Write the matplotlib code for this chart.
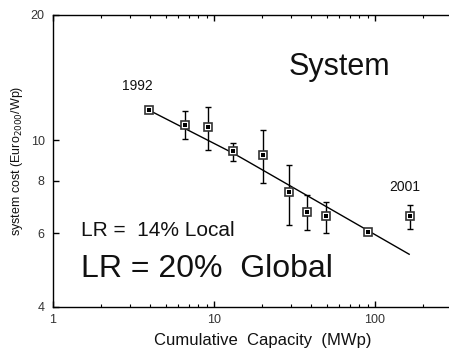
import matplotlib
matplotlib.use("Agg")
import matplotlib.pyplot as plt
from matplotlib.ticker import FixedLocator, NullFormatter, LogLocator
import numpy as np

plt.rcParams['font.family'] = ['Liberation Sans', 'DejaVu Sans']

# Data (cumulative capacity MWp, system cost Euro2000/Wp)
capacity = [3.96, 6.63, 9.22, 13.2, 20.1, 29.1, 37.8, 49.9, 90.5, 165]
cost     = [11.8, 10.9, 10.78, 9.41, 9.24, 7.51, 6.73, 6.59, 6.04, 6.59]
err_hi   = [11.8, 11.75, 12.0, 9.85, 10.57, 8.73, 7.39, 7.11, 6.04, 7.02]
err_lo   = [11.8, 10.06, 9.5, 8.93, 7.92, 6.27, 6.09, 6.01, 6.04, 6.14]

fit_x = [3.96, 6.15, 13.2, 15.97, 163]
fit_y = [11.8, 10.82, 9.31, 8.93, 5.34]

y_ticks = [4, 6, 8, 10, 20]
x_ticks = [1, 10, 100]

W, H = 449, 355
fig = plt.figure(figsize=(W/100, H/100), dpi=100)
left, bottom_px, top_px = 53, 306.7, 14.5
decade = 161
xmax = 400
ax = fig.add_axes([left/W, (H-bottom_px)/H, decade*np.log10(xmax)/W, (bottom_px-top_px)/H])
ax.set_xscale('log')
ax.set_yscale('log')
ax.set_xlim(1, xmax)
ax.set_ylim(4, 20)

yerr = [np.array(cost)-np.array(err_lo), np.array(err_hi)-np.array(cost)]
ax.errorbar(capacity, cost, yerr=yerr, fmt='none', ecolor='black', elinewidth=1.0,
            capsize=2, capthick=1.0, zorder=2)
ax.plot(fit_x, fit_y, color='black', lw=1.0, zorder=3)
ax.plot(capacity, cost, 's', ms=5.5, mfc='white', mec='#333333', mew=1.2, zorder=4, ls='none')
ax.plot(capacity, cost, 's', ms=2.5, mfc='black', mec='black', mew=0, zorder=5, ls='none')

ax.yaxis.set_major_locator(FixedLocator(y_ticks))
ax.yaxis.set_minor_locator(FixedLocator([]))
ax.set_yticklabels([str(v) for v in y_ticks])
ax.yaxis.set_minor_formatter(NullFormatter())
ax.xaxis.set_major_locator(FixedLocator(x_ticks))
ax.set_xticklabels([str(v) for v in x_ticks])
ax.xaxis.set_minor_locator(LogLocator(base=10, subs=np.arange(2, 10)))
ax.xaxis.set_minor_formatter(NullFormatter())

ax.tick_params(axis='both', which='major', direction='in', length=4, width=1,
               labelsize=9, top=True, right=False, colors='black', labelcolor='#333333')
ax.tick_params(axis='both', which='minor', direction='in', length=2, width=0.8, top=True, right=False)
ax.tick_params(axis='x', pad=5)
ax.tick_params(axis='y', pad=6)
for s in ['left', 'bottom', 'top']:
    ax.spines[s].set_linewidth(1.0)
ax.spines['right'].set_visible(False)

ax.set_xlabel('Cumulative  Capacity  (MWp)', fontsize=12, labelpad=5, color='#111111')
ax.set_ylabel('system cost (Euro$_{2000}$/Wp)', fontsize=9, labelpad=4, color='#111111')

fig.text(137/W, 1-86/H, '1992', fontsize=10, ha='center', va='center', color='#111111')
fig.text(405/W, 1-187/H, '2001', fontsize=10, ha='center', va='center', color='#111111')
fig.text(339/W, 1-67/H, 'System', fontsize=22, ha='center', va='center', color='#111111')
fig.text(80.7/W, 1-231/H, 'LR =  14% Local', fontsize=15, ha='left', va='center', color='#111111')
fig.text(80.7/W, 1-269/H, 'LR = 20%  Global', fontsize=23, ha='left', va='center', color='#111111')

fig.savefig('out.png', dpi=100)
